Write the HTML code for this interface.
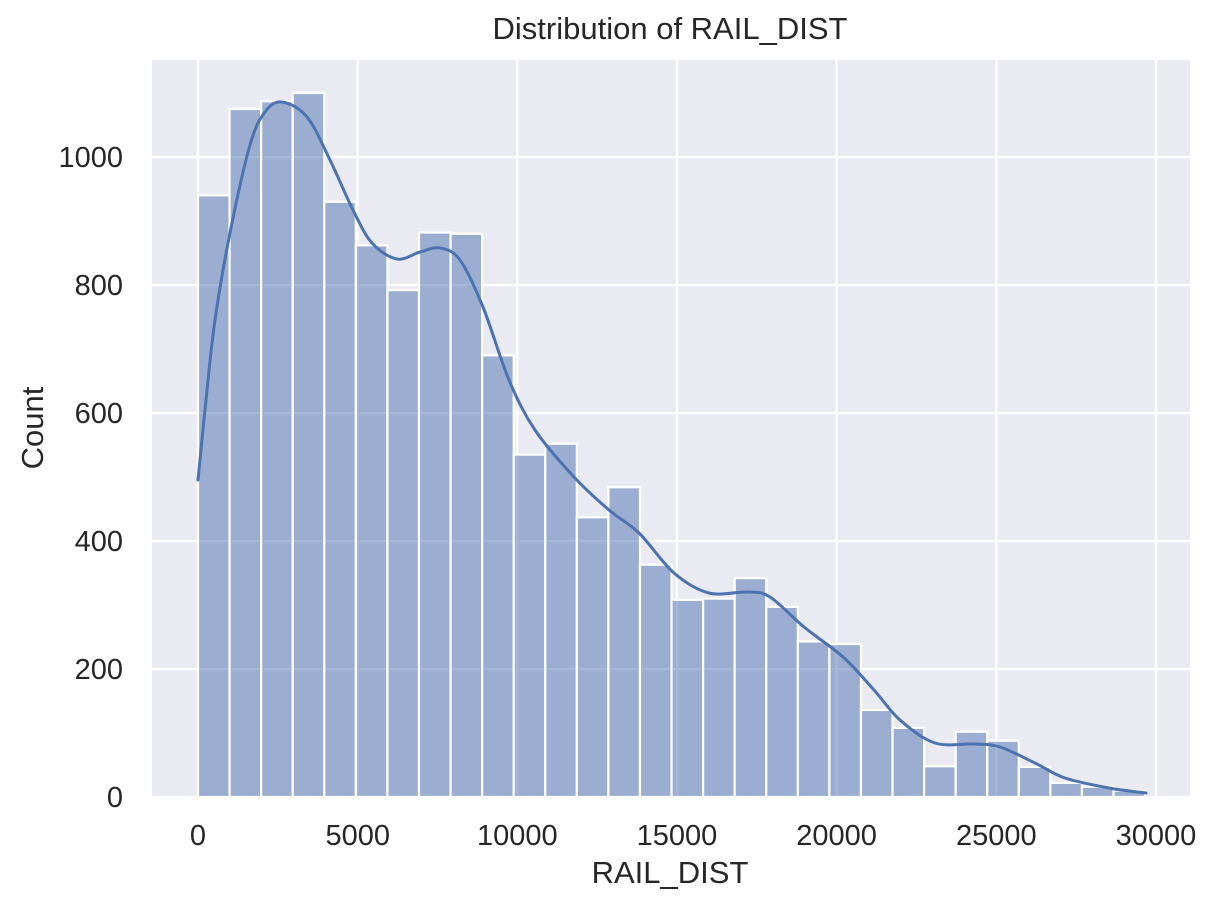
<!DOCTYPE html>
<html><head><meta charset="utf-8"><style>
body{margin:0;background:#fff;}
svg text{font-family:"Liberation Sans",sans-serif;fill:#262626;}
</style></head><body>
<svg width="1216" height="909" viewBox="0 0 1216 909" xmlns="http://www.w3.org/2000/svg">
<rect x="152" y="60" width="1038" height="737" fill="#eaeaf2"/>
<g stroke="#fff" stroke-width="2.2">
<line x1="198" y1="60" x2="198" y2="797"/><line x1="357.7" y1="60" x2="357.7" y2="797"/>
<line x1="517.3" y1="60" x2="517.3" y2="797"/><line x1="677" y1="60" x2="677" y2="797"/>
<line x1="836.6" y1="60" x2="836.6" y2="797"/><line x1="996.3" y1="60" x2="996.3" y2="797"/>
<line x1="1156" y1="60" x2="1156" y2="797"/>
<line x1="152" y1="797" x2="1190" y2="797"/><line x1="152" y1="669" x2="1190" y2="669"/>
<line x1="152" y1="541" x2="1190" y2="541"/><line x1="152" y1="413" x2="1190" y2="413"/>
<line x1="152" y1="285" x2="1190" y2="285"/><line x1="152" y1="157" x2="1190" y2="157"/>
</g>
<g id="bars" fill="#4c72b0" fill-opacity="0.5" stroke="#fff" stroke-width="2.2"></g>
<path id="kde" fill="none" stroke="#4c72b0" stroke-width="3" stroke-linecap="round"/>
<g font-size="29" text-anchor="middle">
<text x="198" y="845">0</text><text x="357.7" y="845">5000</text><text x="517.3" y="845">10000</text>
<text x="677" y="845">15000</text><text x="836.6" y="845">20000</text><text x="996.3" y="845">25000</text>
<text x="1156" y="845">30000</text>
</g>
<g font-size="29" text-anchor="end">
<text x="123" y="807">0</text><text x="123" y="679">200</text><text x="123" y="551">400</text>
<text x="123" y="423">600</text><text x="123" y="295">800</text><text x="123" y="167">1000</text>
</g>
<text x="670" y="39" font-size="31" text-anchor="middle">Distribution of RAIL_DIST</text>
<text x="670" y="883" font-size="31" text-anchor="middle">RAIL_DIST</text>
<text transform="translate(43,428) rotate(-90)" font-size="31" text-anchor="middle">Count</text>
</svg>
<script>
var c=[940,1075,1087,1100,930,862,792,882,880,690,535,552,437,484,363,308,310,342,297,243,239,136,108,48,102,88,47,22,16,10];
var g=document.getElementById('bars'),w=31.57,s='';
c.forEach(function(v,i){var h=v*0.64;s+='<rect x="'+(198+i*w)+'" y="'+(797-h)+'" width="'+w+'" height="'+h+'"/>';});
g.innerHTML=s;
var p=[[198,480],[206,400],[215,320],[230,233],[250,145],[265,112],[282,102],[307,117],[330,160],[353,210],[372,243],[397,259],[420,252],[440,248],[460,260],[483,307],[509,380],[535,430],[574,477],[609,510],[639,533],[674,573],[709,593],[748,592],[770,597],[804,627],[843,657],[874,690],[900,720],[935,743],[974,744],[1000,747],[1035,763],[1065,778],[1109,788],[1146,793]];
var d='M'+p[0][0]+','+p[0][1];
for(var i=0;i<p.length-1;i++){var p0=p[Math.max(i-1,0)],p1=p[i],p2=p[i+1],p3=p[Math.min(i+2,p.length-1)];
d+=' C'+(p1[0]+(p2[0]-p0[0])/6)+','+(p1[1]+(p2[1]-p0[1])/6)+' '+(p2[0]-(p3[0]-p1[0])/6)+','+(p2[1]-(p3[1]-p1[1])/6)+' '+p2[0]+','+p2[1];}
document.getElementById('kde').setAttribute('d',d);
</script>
</body></html>
